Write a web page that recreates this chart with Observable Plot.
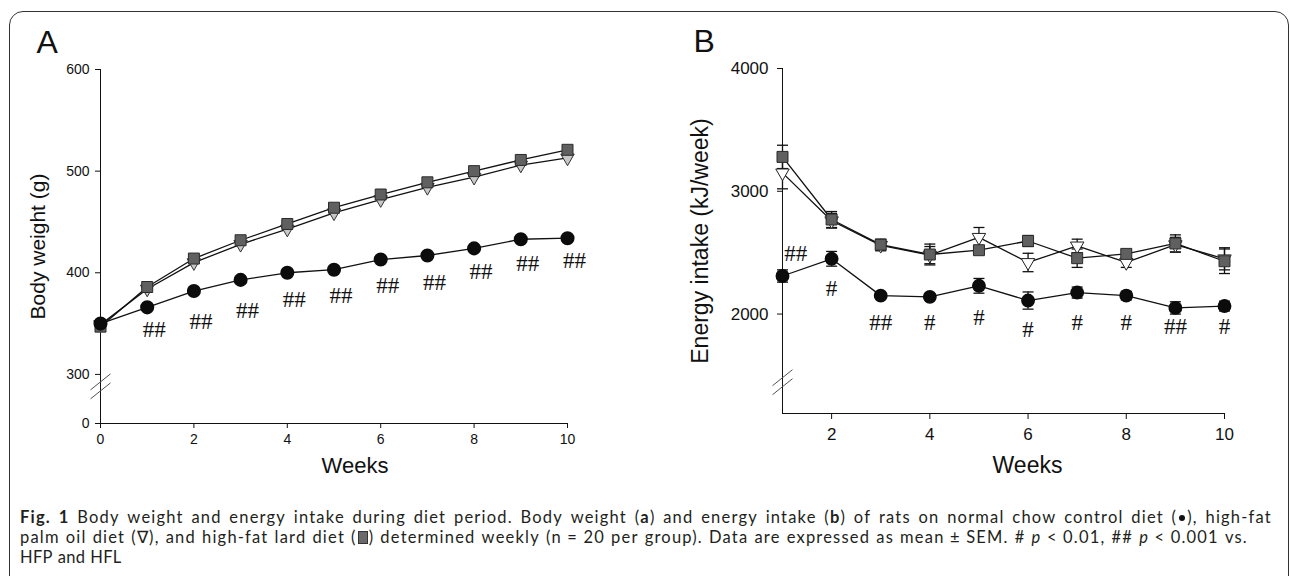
<!DOCTYPE html>
<html>
<head>
<meta charset="utf-8">
<script src="https://cdn.jsdelivr.net/npm/d3@7"></script>
<script src="https://cdn.jsdelivr.net/npm/@observablehq/plot@0.6"></script>
<style>
html, body { margin: 0; padding: 0; background: #fff; overflow: hidden; }
#wrap { position: relative; width: 1290px; height: 576px; overflow: hidden; background: #fff; }
#frame { position: absolute; left: 9px; top: 11px; width: 1280px; height: 640px; border: 1.6px solid #333; border-radius: 14px; box-sizing: border-box; }
#panelA { position: absolute; left: 0; top: 0; }
#panelB { position: absolute; left: 645px; top: 0; }
#caption { position: absolute; left: 20px; top: 507px; font-family: Lato, "Open Sans", sans-serif; font-size: 16.5px; line-height: 20px; color: #231f20; }
#caption .line { display: flex; white-space: nowrap; height: 20px; }
#caption .line .w { display: inline-block; }
#caption .plain .w { margin-right: 5px; }
#caption b { font-weight: 700; }
.sq { display: inline-block; width: 8px; height: 11px; background: #6a6a6a; border: 1px solid #333; vertical-align: -1px; margin: 0 1px; }
.bul { display: inline-block; width: 6px; height: 6px; border-radius: 50%; background: #111; vertical-align: 2px; margin: 0 2px; }
</style>
</head>
<body>
<div id="wrap">
  <div id="frame"></div>
  <div id="panelA"></div>
  <div id="panelB"></div>
  <div id="caption"></div>
</div>
<script>
// ---------- Panel A data: body weight (g) ----------
const weeksA = [0, 1, 2, 3, 4, 5, 6, 7, 8, 9, 10];
const controlWeight = [350, 366, 382, 393, 400, 403, 413, 417, 424, 433, 434];
const hfpWeight     = [349, 384, 410, 428, 443, 459, 472, 484, 494, 506, 513];
const hflWeight     = [347, 386, 414, 432, 448, 464, 477, 489, 500, 511, 521];
const xTicksA = [0, 2, 4, 6, 8, 10];
const yTicksA = [0, 300, 400, 500, 600];
const sigWeeksA  = [1, 2, 3, 4, 5, 6, 7, 8, 9, 10];
const sigLabelsA = ["##", "##", "##", "##", "##", "##", "##", "##", "##", "##"];
const sigValuesA = [344, 352, 363, 374, 378, 387, 390, 401, 409, 412];

// ---------- Panel B data: energy intake (kJ/week), mean ± SEM ----------
const weeksB = [1, 2, 3, 4, 5, 6, 7, 8, 9, 10];
const controlIntake = [2310, 2450, 2150, 2140, 2230, 2110, 2175, 2150, 2050, 2065];
const controlSem    = [50, 60, 25, 25, 60, 70, 45, 35, 50, 40];
const hfpIntake     = [3150, 2760, 2560, 2480, 2625, 2420, 2555, 2420, 2565, 2450];
const hfpSem        = [130, 60, 45, 70, 80, 75, 55, 40, 60, 90];
const hflIntake     = [3280, 2770, 2565, 2485, 2520, 2595, 2455, 2490, 2575, 2430];
const hflSem        = [95, 65, 45, 85, 30, 45, 75, 30, 70, 100];
const xTicksB = [2, 4, 6, 8, 10];
const yTicksB = [2000, 3000, 4000];
const sigWeeksB  = [1.27, 2, 3, 4, 5, 6, 7, 8, 9, 10];
const sigLabelsB = ["##", "#", "##", "#", "#", "#", "#", "#", "##", "#"];
const sigValuesB = [2489, 2204, 1932, 1929, 1970, 1872, 1932, 1929, 1897, 1897];

// ---------- caption text (one entry per printed line) ----------
const captionLines = [
  "<b>Fig.</b> <b>1</b> Body weight and energy intake during diet period. Body weight (<b>a</b>) and energy intake (<b>b</b>) of rats on normal chow control diet ({BUL}), high-fat",
  "palm oil diet (∇), and high-fat lard diet ({SQ}) determined weekly (n\u00a0=\u00a020 per group). Data are expressed as mean\u00a0±\u00a0SEM. # <i>p</i>\u00a0&lt;\u00a00.01, ## <i>p</i>\u00a0&lt;\u00a00.001 vs.",
  "HFP and HFL"
];
const captionWidths = [1252, 1228, null];

// ---------- broken y axis in panel A: 0..300 compressed ----------
const breakAt = 300, belowSpan = 48.3;
const toAxisA = v => v >= breakAt ? v : breakAt - (breakAt - v) * belowSpan / breakAt;
const fromAxisA = u => u >= breakAt ? u : breakAt - (breakAt - u) * breakAt / belowSpan;

// ---------- helpers ----------
const rows = (weeks, vals, sems) => weeks.map((w, i) => ({week: w, value: vals[i], sem: sems ? sems[i] : 0}));
const capSymbol = {draw(ctx) { ctx.moveTo(-5.5, 0); ctx.lineTo(5.5, 0); }};
const breakSymbol = {draw(ctx) {
  ctx.moveTo(-10, 4); ctx.lineTo(10, -12);
  ctx.moveTo(-10, 13); ctx.lineTo(10, -3);
}};
const ink = "#111";
const axisFont = "'Liberation Sans', Arial, sans-serif";
const sigFont = "'Liberation Serif', 'Times New Roman', serif";

const ctrlA = rows(weeksA, controlWeight);
const hfpA = rows(weeksA, hfpWeight);
const hflA = rows(weeksA, hflWeight);
const sigA = sigWeeksA.map((w, i) => ({week: w, value: sigValuesA[i], label: sigLabelsA[i]}));
const yA = d => toAxisA(d.value);

const plotA = Plot.plot({
  width: 645, height: 490,
  marginLeft: 100, marginRight: 78, marginTop: 69, marginBottom: 67,
  style: {fontFamily: axisFont, fontSize: "14px", color: ink, background: "transparent"},
  x: {domain: [0, 10], ticks: xTicksA, tickSize: 5, tickPadding: 6, label: null, line: true},
  y: {domain: [toAxisA(0), 600], ticks: yTicksA.map(toAxisA), tickFormat: u => String(Math.round(fromAxisA(u))),
      tickSize: 5, tickPadding: 6, label: null, line: true},
  marks: [
    Plot.dot([{week: 0, value: 230}], {x: "week", y: yA, symbol: breakSymbol, r: 5, fill: "none", stroke: "#555", strokeWidth: 1}),
    Plot.line(hfpA, {x: "week", y: yA, stroke: ink, strokeWidth: 1.3}),
    Plot.line(hflA, {x: "week", y: yA, stroke: ink, strokeWidth: 1.3}),
    Plot.line(ctrlA, {x: "week", y: yA, stroke: ink, strokeWidth: 1.3}),
    Plot.dot(hfpA, {x: "week", y: yA, symbol: "triangle", rotate: 180, r: 5, fill: "#c8c8c8", stroke: "#333", strokeWidth: 1}),
    Plot.dot(hflA, {x: "week", y: yA, symbol: "square", r: 6.2, fill: "#606060", stroke: "#2a2a2a", strokeWidth: 1}),
    Plot.dot(ctrlA, {x: "week", y: yA, symbol: "circle", r: 6.3, fill: "#0c0c0c", stroke: "#0c0c0c"}),
    Plot.text(sigA, {x: "week", y: yA, text: "label", dx: 7, fontSize: 23, fontFamily: sigFont, fill: ink}),
    Plot.text(["A"], {frameAnchor: "top-left", dx: -64, dy: -17, lineAnchor: "bottom", textAnchor: "start", fontSize: 32, fill: ink}),
    Plot.text(["Body weight (g)"], {frameAnchor: "left", rotate: -90, dx: -62, fontSize: 21, textAnchor: "middle", fill: ink}),
    Plot.text(["Weeks"], {frameAnchor: "bottom", dx: 21, dy: 49, fontSize: 22, textAnchor: "middle", fill: ink})
  ]
});
document.getElementById("panelA").appendChild(plotA);

const ctrlB = rows(weeksB, controlIntake, controlSem);
const hfpB = rows(weeksB, hfpIntake, hfpSem);
const hflB = rows(weeksB, hflIntake, hflSem);
const sigB = sigWeeksB.map((w, i) => ({week: w, value: sigValuesB[i], label: sigLabelsB[i]}));
const errMarks = (data) => [
  Plot.ruleX(data, {x: "week", y1: d => d.value - d.sem, y2: d => d.value + d.sem, stroke: ink, strokeWidth: 1.3}),
  Plot.dot(data, {x: "week", y: d => d.value + d.sem, symbol: capSymbol, r: 3, fill: "none", stroke: ink, strokeWidth: 1.3}),
  Plot.dot(data, {x: "week", y: d => d.value - d.sem, symbol: capSymbol, r: 3, fill: "none", stroke: ink, strokeWidth: 1.3})
];

const plotB = Plot.plot({
  width: 645, height: 490,
  marginLeft: 137, marginRight: 66, marginTop: 68, marginBottom: 77,
  style: {fontFamily: axisFont, fontSize: "17px", color: ink, background: "transparent"},
  x: {domain: [1, 10], ticks: xTicksB, tickSize: 6, tickPadding: 8, label: null, line: true},
  y: {domain: [1190, 4000], ticks: yTicksB, tickFormat: d => String(d), tickSize: 5, tickPadding: 9, label: null, line: true},
  marks: [
    Plot.dot([{week: 1, value: 1449}], {x: "week", y: "value", symbol: breakSymbol, r: 5, fill: "none", stroke: "#555", strokeWidth: 1}),
    Plot.line(hfpB, {x: "week", y: "value", stroke: ink, strokeWidth: 1.3}),
    Plot.line(hflB, {x: "week", y: "value", stroke: ink, strokeWidth: 1.3}),
    Plot.line(ctrlB, {x: "week", y: "value", stroke: ink, strokeWidth: 1.3}),
    ...errMarks(hfpB),
    ...errMarks(hflB),
    ...errMarks(ctrlB),
    Plot.dot(hfpB, {x: "week", y: "value", symbol: "triangle", rotate: 180, r: 5, fill: "#ffffff", stroke: "#222", strokeWidth: 1}),
    Plot.dot(hflB, {x: "week", y: "value", symbol: "square", r: 6.2, fill: "#606060", stroke: "#2a2a2a", strokeWidth: 1}),
    Plot.dot(ctrlB, {x: "week", y: "value", symbol: "circle", r: 6.2, fill: "#0c0c0c", stroke: "#0c0c0c"}),
    Plot.text(sigB, {x: "week", y: "value", text: "label", fontSize: 23, fontFamily: sigFont, fill: ink}),
    Plot.text(["B"], {frameAnchor: "top-left", dx: -89, dy: -17, lineAnchor: "bottom", textAnchor: "start", fontSize: 32, fill: ink}),
    Plot.text(["Energy intake (kJ/week)"], {frameAnchor: "left", rotate: -90, dx: -82, fontSize: 23, textAnchor: "middle", fill: ink}),
    Plot.text(["Weeks"], {frameAnchor: "bottom", dx: 24, dy: 59, fontSize: 23, textAnchor: "middle", fill: ink})
  ]
});
document.getElementById("panelB").appendChild(plotB);

// ---------- caption: each word in its own box, justified lines spread with flex ----------
const cap = document.getElementById("caption");
const glyphs = {"{BUL}": '<span class="bul"></span>', "{SQ}": '<span class="sq"></span>'};
captionLines.forEach((html, i) => {
  const line = document.createElement("div");
  line.className = "line " + (captionWidths[i] ? "just" : "plain");
  const tokens = html.split(" ");
  line.innerHTML = tokens
    .map(t => t.replace(/\{BUL\}|\{SQ\}/g, m => glyphs[m]))
    .map(t => `<span class="w">${t}</span>`).join("");
  cap.appendChild(line);
  if (captionWidths[i]) {
    const target = captionWidths[i];
    const words = [...line.querySelectorAll(".w")];
    const used = words.reduce((s, w) => s + w.getBoundingClientRect().width, 0);
    const chars = line.textContent.length;
    const gaps = words.length - 1;
    const ls = Math.max(-0.6, Math.min(1.2, (target - gaps * 5 - used) / chars));
    line.style.letterSpacing = ls.toFixed(3) + "px";
    line.style.width = target + "px";
    line.style.justifyContent = "space-between";
  } else {
    line.style.letterSpacing = "0.3px";
  }
});
</script>
</body>
</html>
